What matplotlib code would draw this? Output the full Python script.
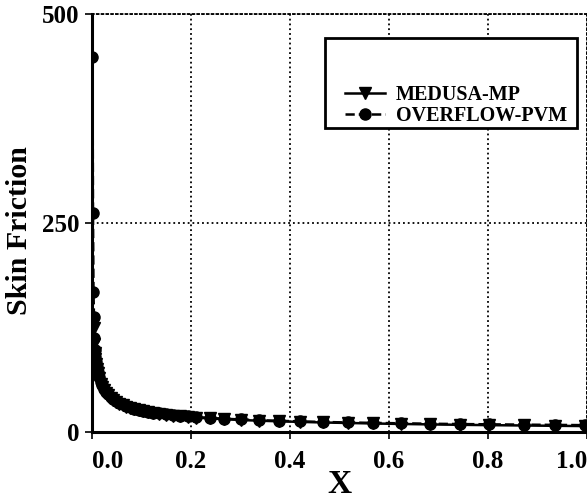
import numpy as np
import matplotlib
matplotlib.use("Agg")
import matplotlib.pyplot as plt
from matplotlib.patches import Rectangle

plt.rcParams['font.family'] = ['Liberation Serif', 'DejaVu Serif']

## data ------------------------------------------------------------
x_overflow = [0.001, 0.002, 0.003, 0.004, 0.005, 0.006, 0.007, 0.008, 0.010, 0.012,
              0.015, 0.018, 0.021, 0.025, 0.029, 0.033, 0.038, 0.043, 0.049, 0.055,
              0.062, 0.069, 0.077, 0.085, 0.094, 0.103, 0.113, 0.124, 0.136, 0.149,
              0.163, 0.178, 0.194, 0.21, 0.238, 0.267, 0.30, 0.338, 0.377, 0.42,
              0.466, 0.517, 0.568, 0.625, 0.682, 0.743, 0.802, 0.872, 0.935, 0.996]
cf_overflow = [449, 262, 168, 138, 112, 98, 90, 84, 78, 72,
               66, 60, 56, 51, 48, 45, 42, 39.5, 37, 35,
               33, 31, 29.5, 28, 26.7, 25.5, 24.4, 23.3, 22.2, 21.2,
               20.3, 19.4, 18.6, 17.9, 16.8, 15.9, 15.0, 14.1, 13.4, 12.7,
               12.0, 11.4, 10.9, 10.4, 9.9, 9.5, 9.2, 8.8, 8.5, 8.2]

x_medusa = [0.004, 0.005, 0.006, 0.007, 0.008, 0.010, 0.012,
            0.015, 0.018, 0.021, 0.025, 0.029, 0.033, 0.038, 0.043, 0.049, 0.055,
            0.062, 0.069, 0.077, 0.085, 0.094, 0.103, 0.113, 0.124, 0.136, 0.149,
            0.163, 0.178, 0.194, 0.21, 0.238, 0.267, 0.30, 0.338, 0.377, 0.42,
            0.466, 0.517, 0.568, 0.625, 0.682, 0.743, 0.802, 0.872, 0.935, 0.996]
cf_medusa = [125, 105, 94, 87, 81, 75, 70,
             64, 58, 54, 50, 46.5, 44, 41, 38.5, 36, 34,
             32, 30.2, 28.6, 27.2, 25.9, 24.8, 23.7, 22.6, 21.6, 20.6,
             19.7, 18.8, 18.0, 17.3, 16.2, 15.3, 14.4, 13.5, 12.8, 12.1,
             11.4, 10.8, 10.2, 9.6, 9.1, 8.6, 8.2, 7.8, 7.4, 7.1]

x_ticks = [0.0, 0.2, 0.4, 0.6, 0.8, 1.0]
y_ticks = [0, 250, 500]

## plot ------------------------------------------------------------
fig = plt.figure(figsize=(5.87, 5.0), dpi=100)
ax = fig.add_axes([92/587, 68/500, 495/587, 418/500])

ax.plot(x_medusa, cf_medusa, '-', color='black', lw=1.8,
        marker='v', markersize=8.5, label='MEDUSA-MP')
ax.plot(x_overflow, cf_overflow, '--', color='black', lw=1.8,
        marker='o', markersize=8, label='OVERFLOW-PVM')

ax.set_xlim(0, 1.0)
ax.set_ylim(0, 500)
ax.set_xticks(x_ticks)
ax.set_xticklabels(['%.1f' % v for v in x_ticks], fontweight='bold')
ax.set_yticks(y_ticks)
ax.set_yticklabels([str(v) for v in y_ticks], fontweight='bold')
ax.tick_params(labelsize=18, length=5, width=1.2, direction='out')
ax.tick_params(axis='x', pad=8)
ax.tick_params(axis='y', pad=4)
xlabels = ax.get_xticklabels()
xlabels[0].set_ha('left')
xlabels[-1].set_ha('right')

ax.grid(True, linestyle=':', color='black', lw=1.3)
for s in ['top', 'right']:
    ax.spines[s].set_linestyle(':')
    ax.spines[s].set_linewidth(1.3)
for s in ['left', 'bottom']:
    ax.spines[s].set_linewidth(2.2)

ax.set_xlabel('X', fontsize=24, fontweight='bold', labelpad=-3)
ax.set_ylabel('Skin Friction', fontsize=21.5, fontweight='bold')
ax.yaxis.set_label_coords(-0.119, 0.483)
ax.yaxis.label.set_va('bottom')

# legend box
box = Rectangle((0.471, 0.727), 0.509, 0.216, transform=ax.transAxes,
                facecolor='white', edgecolor='black', lw=2, zorder=5)
ax.add_patch(box)
leg = ax.legend(loc='upper left', bbox_to_anchor=(0.49, 0.855), frameon=False,
                prop={'size': 14.5, 'weight': 'bold'}, handlelength=2.0,
                handletextpad=0.55, labelspacing=0.05, borderpad=0)
leg.set_zorder(6)

fig.savefig('out.png', dpi=100)
